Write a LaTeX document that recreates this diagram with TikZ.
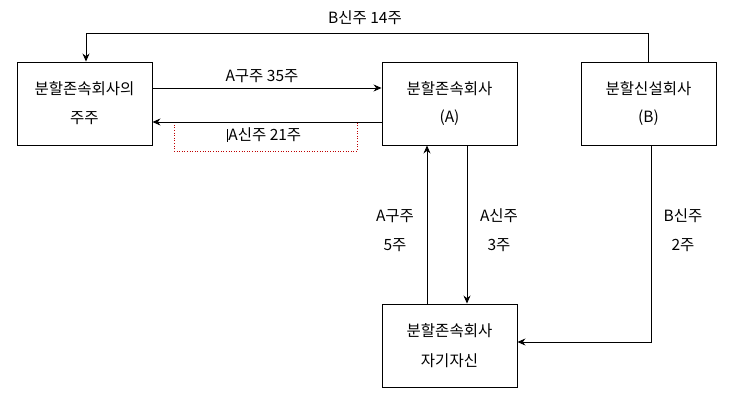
\documentclass[tikz,border=0pt]{standalone}
\usepackage{fontspec}
\setmainfont{Noto Sans CJK KR}
\usetikzlibrary{arrows.meta}
\begin{document}
\begin{tikzpicture}[x=1pt,y=-1pt,
  box/.style={draw,line width=0.9pt,inner sep=0pt},
  lab/.style={font=\fontsize{15.5}{19}\selectfont,inner sep=0pt,align=center},
  conn/.style={line width=0.9pt},
  arr/.style={conn,-{Stealth[length=8pt,width=7pt]}}]
\useasboundingbox (0,0) rectangle (732,404);
% boxes
\node[box,minimum width=135pt,minimum height=83pt] (sh) at (84.5,103.5) {};
\node[box,minimum width=135pt,minimum height=83pt] (A) at (449.5,103.5) {};
\node[box,minimum width=135pt,minimum height=83pt] (B) at (648.5,103.5) {};
\node[box,minimum width=135pt,minimum height=83pt] (S) at (449.5,345.5) {};
% box texts
\node[lab] (shT1) at (84.5,89) {분할존속회사의};
\node[lab] (shT2) at (84.5,118) {주주};
\node[lab] (AT1) at (449.5,89) {분할존속회사};
\node[lab] (AT2) at (449.5,118) {(A)};
\node[lab] (BT1) at (648.5,89) {분할신설회사};
\node[lab] (BT2) at (648.5,118) {(B)};
\node[lab] (ST1) at (449.5,331) {분할존속회사};
\node[lab] (ST2) at (449.5,361) {자기자신};
% top connector B -> shareholders
\coordinate (tr) at (648,33);
\coordinate (tl) at (86,33);
\draw[arr] (B.north -| tr) -- (tr) -- (tl) -- (tl |- sh.north);
\node[lab] (lbTop) at (365,18) {B신주 14주};
% A구주 35주
\draw[arr] (sh.east |- 0,88) -- (A.west |- 0,88);
\node[lab] (lb35) at (262,76) {A구주 35주};
% A신주 21주
\node[draw=red!75!black,dotted,line width=0.6pt,minimum width=183pt,minimum height=29pt,inner sep=0pt] (dbox) at (265.5,136.5) {};
\draw[arr] (A.west |- 0,122) -- (sh.east |- 0,122);
\node[lab] (lb21) at (264,135) {\rule[-1pt]{1.6pt}{13pt}A신주 21주};
% vertical A구주 5주 (S -> A)
\draw[arr] (S.north -| 427,0) -- (A.south -| 427,0);
\node[lab] (lb5a) at (395,216) {A구주};
\node[lab] (lb5b) at (395,245) {5주};
% vertical A신주 3주 (A -> S)
\draw[arr] (A.south -| 467,0) -- (S.north -| 467,0);
\node[lab] (lb3a) at (499,216) {A신주};
\node[lab] (lb3b) at (499,245) {3주};
% B신주 2주 (B -> S)
\coordinate (br) at (651,342);
\draw[arr] (B.south -| br) -- (br) -- (S.east |- br);
\node[lab] (lb2a) at (683,216) {B신주};
\node[lab] (lb2b) at (683,245) {2주};
\end{tikzpicture}
\end{document}
